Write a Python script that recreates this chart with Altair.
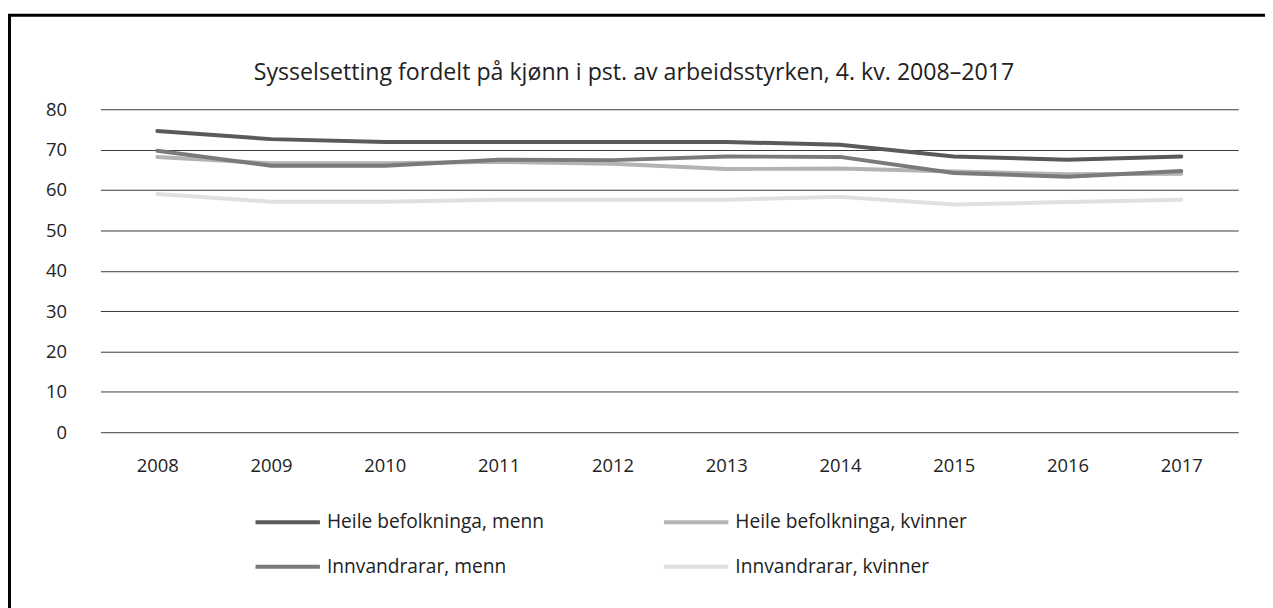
import altair as alt
import pandas as pd

years = ["2008", "2009", "2010", "2011", "2012", "2013", "2014", "2015", "2016", "2017"]
series_names = [
    "Heile befolkninga, menn",
    "Heile befolkninga, kvinner",
    "Innvandrarar, menn",
    "Innvandrarar, kvinner",
]
heile_menn = [74.6, 72.6, 71.9, 71.9, 71.9, 71.9, 71.2, 68.3, 67.5, 68.3]
heile_kvinner = [68.2, 66.6, 66.6, 67.0, 66.5, 65.2, 65.3, 64.6, 63.9, 64.0]
innv_menn = [69.7, 66.0, 66.0, 67.5, 67.4, 68.3, 68.2, 64.2, 63.3, 64.7]
innv_kvinner = [59.0, 57.1, 57.1, 57.6, 57.6, 57.6, 58.3, 56.4, 57.0, 57.6]
colors = ["#5a5a5a", "#b3b3b3", "#7a7a7a", "#e0e0e0"]
y_ticks = [0, 10, 20, 30, 40, 50, 60, 70, 80]
title_text = "Sysselsetting fordelt på kjønn i pst. av arbeidsstyrken, 4. kv. 2008–2017"

rows = []
for k, (name, vals) in enumerate(zip(series_names, [heile_menn, heile_kvinner, innv_menn, innv_kvinner])):
    for yr, v in zip(years, vals):
        rows.append({"year": yr, "value": v, "series": name, "order": k})
df = pd.DataFrame(rows)

FONT = "Open Sans"

lines = alt.Chart(df).mark_line(strokeWidth=4, strokeCap="round", strokeJoin="round").encode(
    x=alt.X("year:N", sort=years, scale=alt.Scale(type="point", padding=0.5),
            axis=alt.Axis(title=None, labelAngle=0, domain=False, ticks=False, grid=False,
                          labelPadding=25, labelFontSize=18.5, labelColor="#222", labelFont=FONT)),
    y=alt.Y("value:Q", scale=alt.Scale(domain=[0, 80], nice=False),
            axis=alt.Axis(title=None, values=y_ticks, domain=False, ticks=False, grid=True,
                          gridColor="#3a3a3a", gridWidth=1, labelPadding=34,
                          labelFontSize=18.5, labelColor="#222", labelFont=FONT)),
    color=alt.Color("series:N", sort=series_names,
                    scale=alt.Scale(domain=series_names, range=colors),
                    legend=alt.Legend(title=None, orient="none", legendX=154, legendY=381,
                                      direction="horizontal",
                                      columns=2, columnPadding=112, rowPadding=-29,
                                      symbolType="stroke", symbolSize=4200, symbolStrokeWidth=4,
                                      labelFontSize=19.3, labelColor="#222", labelFont=FONT,
                                      labelOffset=5, labelLimit=400)),
    detail="series:N",
    order=alt.Order("order:Q"),
)

frame = alt.Chart(pd.DataFrame({"a": [0]})).mark_rect(
    fill=None, stroke="#000", strokeWidth=3
).encode(
    x=alt.value(-91.5), x2=alt.value(1400), y=alt.value(-94.5), y2=alt.value(700)
)

title = alt.Chart(pd.DataFrame({"t": [title_text]})).mark_text(
    font=FONT, fontSize=23.3, color="#222", align="center", baseline="middle"
).encode(
    text="t:N", x=alt.value(537), y=alt.value(-36)
)

chart = alt.layer(frame, lines, title).properties(
    width=1145,
    height=325,
    autosize=alt.AutoSizeParams(type="none"),
    padding={"left": 93, "top": 100, "right": 27, "bottom": 175},
).configure_view(stroke=None)

chart.save("out.html", embed_options={"renderer": "svg", "actions": False})
